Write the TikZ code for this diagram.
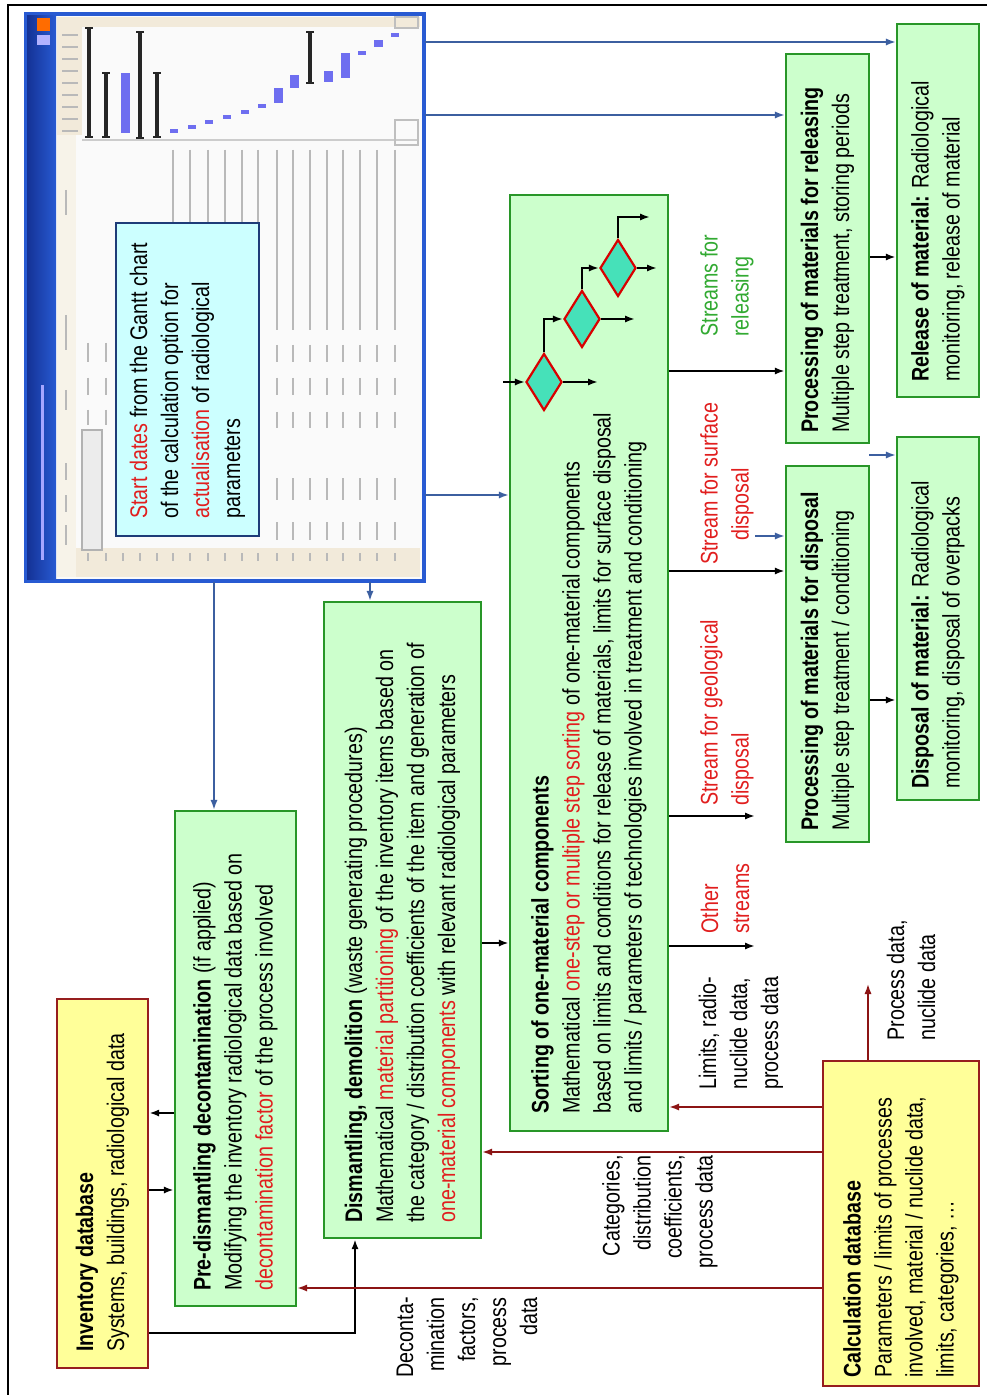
\documentclass[tikz,border=0pt]{standalone}
\usepackage{fontspec}
\setmainfont{Liberation Sans}[FakeStretch=0.82]
\usetikzlibrary{arrows.meta,shapes.geometric,fit,calc}
\definecolor{gfill}{RGB}{204,255,204}
\definecolor{gdraw}{RGB}{40,150,40}
\definecolor{yfill}{RGB}{255,255,153}
\definecolor{ydraw}{RGB}{150,30,30}
\definecolor{cfill}{RGB}{204,255,255}
\definecolor{cdraw}{RGB}{30,60,120}
\definecolor{ablue}{RGB}{60,95,160}
\definecolor{ared}{RGB}{140,20,20}
\definecolor{tred}{RGB}{225,30,30}
\definecolor{tgreen}{RGB}{50,170,50}
\definecolor{dfill}{RGB}{70,225,185}
\definecolor{winblue}{RGB}{40,90,210}
\definecolor{windark}{RGB}{20,50,150}
\definecolor{gbl}{RGB}{110,110,240}
\definecolor{tgray}{RGB}{185,185,185}
\definecolor{beige}{RGB}{242,234,218}
\begin{document}
\begin{tikzpicture}[x=0.5pt,y=-0.5pt,
  box/.style={rectangle, inner sep=0pt, line width=1.2pt},
  greenbox/.style={box, fill=gfill, draw=gdraw},
  yellowbox/.style={box, fill=yfill, draw=ydraw},
  cyanbox/.style={box, fill=cfill, draw=cdraw, line width=1pt},
  txt/.style={rotate=90, inner sep=0pt, font=\fontsize{12}{15.5}\selectfont, align=left, anchor=west},
  lbl/.style={rotate=90, inner sep=0pt, font=\fontsize{12}{15.5}\selectfont},
  tip/.style={-{Latex[length=5pt,width=3.6pt]}},
  blk/.style={tip, draw=black, line width=1pt},
  blu/.style={tip, draw=ablue, line width=0.8pt},
  rdd/.style={tip, draw=ared, line width=0.8pt},
  dia/.style={diamond, draw=red!85!black, line width=1.1pt, fill=dfill, minimum width=18pt, minimum height=28.5pt, inner sep=0pt},
  gtext/.style={draw=tgray, line width=1.2pt},
  gbar/.style={draw=black!85, line width=2pt},
  gcap/.style={draw=black!85, line width=1.4pt}
]
\useasboundingbox (0,0) rectangle (987,1395);
\fill[white] (0,0) rectangle (987,1395);
% frame
\draw[line width=1.2pt] (8,1395) -- (8,5) -- (987,5);

% ---------- screenshot of the Gantt chart ----------
\node[box, fit={(27,15) (423,580)}, fill=white!96!gray, draw=winblue, line width=1.5pt] (shot) {};
\shade[left color=windark, right color=winblue] (27,15) rectangle (56,580);
\fill[orange!85!red] (37,18) rectangle (50,31);
\fill[blue!30!white] (37,35) rectangle (50,45);
\draw[blue!35!white, line width=1.5pt] (42,385) -- (42,560);
\fill[beige] (57,17) rectangle (420,27);
\fill[beige] (57,27) rectangle (82,135);
\foreach \y in {35,47,...,131} \draw[tgray, line width=0.6pt] (62,\y) -- (78,\y);
\fill[beige!60] (57,135) rectangle (76,577);
\fill[beige] (76,548) rectangle (420,577);
\draw[gray!40, line width=0.6pt] (82,140) -- (418,140);
\draw[gray!50, line width=0.6pt] (395,17) rectangle (418,28);
\draw[gray!50, line width=0.6pt] (395,120) rectangle (418,145);
% gantt bars
\foreach \x/\a/\b in {89/28/137, 106/73/137, 140/32/138, 157/73/137, 310/32/83} {
  \draw[gbar] (\x,\a) -- (\x,\b);
  \draw[gcap] (\x-4,\a) -- (\x+4,\a);
  \draw[gcap] (\x-4,\b) -- (\x+4,\b);
}
\foreach \x/\a/\b in {125/73/133, 278/88/103, 294/75/88, 328/71/82, 345/53/78, 378/40/47}
  \fill[gbl] (\x-4.5,\a) rectangle (\x+4.5,\b);
\foreach \x/\y in {174/131, 192/127, 209/122, 227/117, 245/112, 262/106, 362/53, 395/35}
  \fill[gbl] (\x-4,\y-2) rectangle (\x+4,\y+2);
% table
\foreach \x in {277,293,310,327,343,360,377,395} {
  \foreach \a/\b in {150/330, 345/362, 378/395, 412/428, 478/500, 522/540}
    \draw[gtext] (\x,\a) -- (\x,\b);
}
\foreach \x in {173,190,208,225,242,258} \draw[gtext] (\x,150) -- (\x,222);
\foreach \x in {88,106} {
  \foreach \a/\b in {343/362, 378/395, 410/425} \draw[gtext] (\x,\a) -- (\x,\b);
}
\foreach \a/\b in {190/215, 315/350, 390/410, 463/480, 495/512, 525/545}
  \draw[gtext] (66,\a) -- (66,\b);
\foreach \x in {88,106,123,140,157,173,190,208,225,242,258,277,293,310,327,343,360,377,395}
  \draw[tgray, line width=1pt] (\x,553) -- (\x,561);
\draw[gray!60, fill=gray!15, line width=0.6pt] (82,430) rectangle (102,550);
\draw[winblue, line width=1.5pt] (shot.north west) rectangle (shot.south east);

% ---------- boxes ----------
\node[cyanbox, fit={(116,223) (259,536)}] (start) {};
\node[txt] at ($(start.south)+(0,-18)$) {\textcolor{tred}{Start dates} from the Gantt chart\\of the calculation option for\\\textcolor{tred}{actualisation} of radiological\\parameters};

\node[yellowbox, fit={(57,999) (148,1368)}] (inv) {};
\node[txt] at ($(inv.south)+(0,-17)$) {\textbf{Inventory database}\\Systems, buildings, radiological data};

\node[greenbox, fit={(175,811) (296,1306)}] (pre) {};
\node[txt] at ($(pre.south)+(0,-16)$) {\textbf{Pre-dismantling decontamination} (if applied)\\Modifying the inventory radiological data based on\\\textcolor{tred}{decontamination factor} of the process involved};

\node[greenbox, fit={(324,602) (481,1238)}] (dism) {};
\node[txt] at ($(dism.south)+(0,-16)$) {\textbf{Dismantling, demolition} (waste generating procedures)\\Mathematical \textcolor{tred}{material partitioning} of the inventory items based on\\the category / distribution coefficients of the item and generation of\\\textcolor{tred}{one-material components} with relevant radiological parameters};

\node[greenbox, fit={(510,195) (668,1131)}] (sort) {};
\node[txt] at ($(sort.south)+(0,-18)$) {\textbf{Sorting of one-material components}\\Mathematical \textcolor{tred}{one-step or multiple step sorting} of one-material components\\based on limits and conditions for release of materials, limits for surface disposal\\and limits / parameters of technologies involved in treatment and conditioning};

\node[greenbox, fit={(786,54) (869,443)}] (procrel) {};
\node[txt] at ($(procrel.south)+(0,-11)$) {\textbf{Processing of materials for releasing}\\Multiple step treatment, storing periods};

\node[greenbox, fit={(897,24) (979,397)}] (release) {};
\node[txt] at ($(release.south)+(0,-16)$) {\textbf{Release of material:} Radiological\\monitoring, release of material};

\node[greenbox, fit={(786,466) (869,842)}] (procdisp) {};
\node[txt] at ($(procdisp.south)+(0,-12)$) {\textbf{Processing of materials for disposal}\\Multiple step treatment / conditioning};

\node[greenbox, fit={(897,437) (979,800)}] (disp) {};
\node[txt] at ($(disp.south)+(0,-12)$) {\textbf{Disposal of material:} Radiological\\monitoring, disposal of overpacks};

\node[yellowbox, fit={(823,1061) (979,1386)}] (calc) {};
\node[txt] at ($(calc.south)+(0,-9)$) {\textbf{Calculation database}\\Parameters / limits of processes\\involved, material / nuclide data,\\limits, categories, \dots};

% ---------- diamonds ----------
\node[dia] (d1) at (544,382) {};
\node[dia] (d2) at (582,319) {};
\node[dia] (d3) at (618,268) {};
\coordinate (dIn) at (503,382);
\coordinate (d1out) at (598,382);
\coordinate (d2out) at (635,319);
\coordinate (d3out) at (657,268);
\coordinate (d3top) at (650,217);
\draw[blk] (dIn) -- (d1.west);
\draw[blk] (d1.east) -- (d1out);
\draw[blk] (d1.north) |- (d2.west);
\draw[blk] (d2.east) -- (d2out);
\draw[blk] (d2.north) |- (d3.west);
\draw[blk] (d3.east) -- (d3out);
\draw[blk] (d3.north) |- (d3top);

% ---------- labels ----------
\node[lbl, align=right, anchor=east] (lbldec) at (467,1297) {Deconta-\\mination\\factors,\\process\\data};
\node[lbl, align=right, anchor=east] (lblcat) at (660,1155) {Categories,\\distribution\\coefficients,\\process data};
\node[lbl, align=left, anchor=west] (lbllim) at (741,1090) {Limits, radio-\\nuclide data,\\process data};
\node[lbl, align=left, anchor=west] (lblproc) at (911,1041) {Process data,\\nuclide data};
\node[lbl, align=left, anchor=west, text=tred] (lbloth) at (725,934) {Other\\streams};
\node[lbl, align=left, anchor=west, text=tred] (lblgeo) at (727,806) {Stream for geological\\disposal};
\node[lbl, align=left, anchor=west, text=tred] (lblsurf) at (727,565) {Stream for surface\\\hspace*{12pt}disposal};
\node[lbl, align=left, anchor=west, text=tgreen] (lblrel) at (727,337) {Streams for\\releasing};

% ---------- connectors ----------
\coordinate (geoEnd) at (755,816);
\coordinate (othEnd) at (755,946);
\coordinate (surfBlue) at (755,536);
\coordinate (dispBlue) at (869,455);
\coordinate (calcUp) at (868,984);

\draw[blu] (shot.east |- 0,42) -- (release.west |- 0,42);
\draw[blu] (shot.east |- 0,115) -- (procrel.west |- 0,115);
\draw[blu] (shot.east |- 0,495) -- (sort.west |- 0,495);
\draw[blu] (shot.south -| 214,0) -- (pre.north -| 214,0);
\draw[blu] (shot.south -| 370,0) -- (dism.north -| 370,0);
\draw[blu] (surfBlue) -- (procdisp.west |- surfBlue);
\draw[blu] (dispBlue) -- (disp.west |- dispBlue);

\draw[blk] (sort.east |- 0,371) -- (procrel.west |- 0,371);
\draw[blk] (sort.east |- 0,571) -- (procdisp.west |- 0,571);
\draw[blk] (sort.east |- geoEnd) -- (geoEnd);
\draw[blk] (sort.east |- othEnd) -- (othEnd);
\draw[blk] (procrel.east |- 0,257) -- (release.west |- 0,257);
\draw[blk] (procdisp.east |- 0,700) -- (disp.west |- 0,700);
\draw[blk] (dism.east |- 0,943) -- (sort.west |- 0,943);
\draw[blk] (pre.west |- 0,1113) -- (inv.east |- 0,1113);
\draw[blk] (inv.east |- 0,1190) -- (pre.west |- 0,1190);
\draw[blk] (inv.east |- 0,1333) -| (dism.south -| 355,0);

\draw[rdd] (calc.west |- 0,1288) -- (pre.east |- 0,1288);
\draw[rdd] (calc.west |- 0,1152) -- (dism.east |- 0,1152);
\draw[rdd] (calc.west |- 0,1107) -- (sort.east |- 0,1107);
\draw[rdd] (calc.north -| calcUp) -- (calcUp);
\end{tikzpicture}
\end{document}
